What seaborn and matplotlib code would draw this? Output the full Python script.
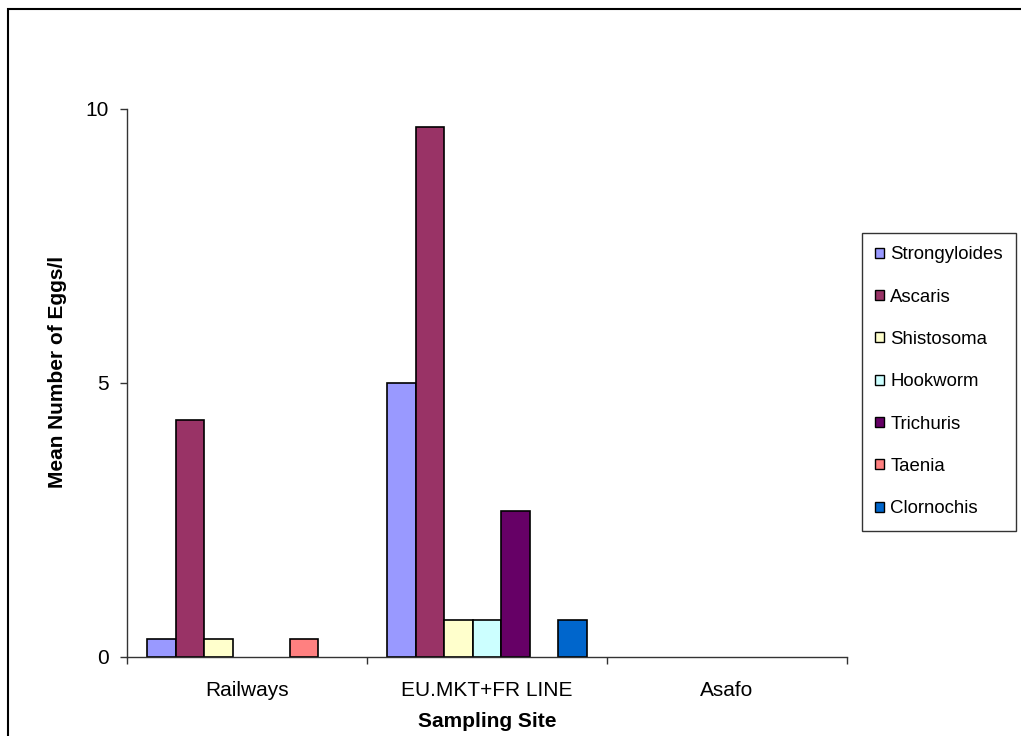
import matplotlib
matplotlib.use("Agg")
import matplotlib.pyplot as plt
import seaborn as sns
import pandas as pd
from matplotlib.patches import Rectangle

sites = ["Railways", "EU.MKT+FR LINE", "Asafo"]
parasites = ["Strongyloides", "Ascaris", "Shistosoma", "Hookworm",
             "Trichuris", "Taenia", "Clornochis"]
strongyloides = [0.33, 5.0, 0.0]
ascaris = [4.33, 9.67, 0.0]
shistosoma = [0.33, 0.67, 0.0]
hookworm = [0.0, 0.67, 0.0]
trichuris = [0.0, 2.67, 0.0]
taenia = [0.33, 0.0, 0.0]
clornochis = [0.0, 0.67, 0.0]
colors = ["#9999FF", "#993366", "#FFFFCC", "#CCFFFF",
          "#660066", "#FF8080", "#0066CC"]

series = [strongyloides, ascaris, shistosoma, hookworm,
          trichuris, taenia, clornochis]
rows = []
for name, vals in zip(parasites, series):
    for site, v in zip(sites, vals):
        rows.append({"Site": site, "Parasite": name, "Eggs": v})
df = pd.DataFrame(rows)

sns.set_theme(style="white")
plt.rcParams["font.family"] = ["Liberation Sans", "DejaVu Sans"]
plt.rcParams["text.color"] = "black"
plt.rcParams["axes.labelcolor"] = "black"
plt.rcParams["xtick.labelcolor"] = "black"
plt.rcParams["ytick.labelcolor"] = "black"

fig = plt.figure(figsize=(10.21, 7.36), dpi=100)
ax = fig.add_axes([127 / 1021, 1 - 657 / 736, 720 / 1021, 548 / 736])

sns.barplot(data=df, x="Site", y="Eggs", hue="Parasite",
            hue_order=parasites, order=sites, palette=colors,
            saturation=1, width=0.83, edgecolor="black", linewidth=1.2,
            errorbar=None, ax=ax, legend=True)

# empty bars leave no outline on the baseline
for container in ax.containers:
    for bar in container:
        if bar.get_height() == 0:
            bar.set_linewidth(0)
            bar.set_facecolor("none")

ax.set_ylim(0, 10)
ax.set_xlim(-0.5, 2.5)
ax.set_yticks([0, 5, 10])
ax.set_yticklabels(["0", "5", "10"], fontsize=15)
ax.set_xticks([-0.5, 0.5, 1.5, 2.5], minor=False)
ax.set_xticklabels([])
ax.set_xticks([0, 1, 2], minor=True)
ax.set_xticklabels(sites, minor=True, fontsize=15)
ax.tick_params(axis="x", which="minor", length=0, pad=17)
ax.tick_params(axis="x", which="major", length=5, width=1, color="#333333",
               direction="out")
ax.tick_params(axis="y", length=5, width=1, color="#333333", direction="out",
               pad=8)
ax.tick_params(bottom=True, left=True)

for side in ["top", "right"]:
    ax.spines[side].set_visible(False)
for side in ["left", "bottom"]:
    ax.spines[side].set_color("#333333")
    ax.spines[side].set_linewidth(1)

ax.set_xlabel("Sampling Site", fontsize=15, fontweight="bold", labelpad=9)
ax.set_ylabel("Mean Number of Eggs/l", fontsize=15, fontweight="bold")
ax.yaxis.set_label_coords(-0.083, 0.52)

handles, labels = ax.get_legend_handles_labels()
ax.legend(handles, labels, loc="upper left",
          bbox_to_anchor=(862 / 1021, 1 - 233 / 736),
          bbox_transform=fig.transFigure, frameon=True, fancybox=False,
          edgecolor="black", fontsize=13.4, handlelength=0.45,
          handleheight=0.45, handletextpad=0.35, labelspacing=1.36,
          borderpad=0.72, borderaxespad=0)
leg = ax.get_legend()
leg.get_frame().set_linewidth(1)
for h in leg.legend_handles:
    h.set_edgecolor("black")
    h.set_linewidth(1)

fig.patches.append(Rectangle((8 / 1021, -0.1), 1.2, 1.1 - 9 / 736,
                             transform=fig.transFigure, fill=False,
                             edgecolor="black", linewidth=1.5))

fig.savefig("out.png", dpi=100)
